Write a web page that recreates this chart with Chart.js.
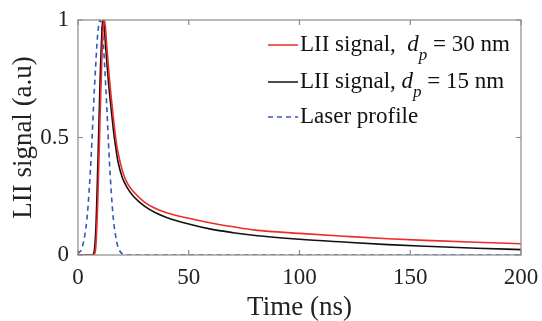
<!DOCTYPE html>
<html>
<head>
<meta charset="utf-8">
<script src="https://cdn.jsdelivr.net/npm/chart.js@4.4.0/dist/chart.umd.min.js"></script>
<style>
  html, body { margin: 0; padding: 0; background: #fff; }
  #wrap { width: 542px; height: 321px; position: relative; }
</style>
</head>
<body>
<div id="wrap"><canvas id="lii"></canvas></div>
<script>
// time axis (ns), shared by all series
const timeNs = [0, 2, 4, 5, 6, 7, 8, 9, 10, 11, 11.5, 12, 13, 14, 15, 16, 17, 18, 20, 22, 25, 30, 35, 40, 50, 60, 70, 80, 100, 120, 140, 160, 180, 200];
// LII signal, dp = 30 nm
const lii30 = [0, 0, 0, 0, 0, 0, 0.03, 0.25, 0.6, 0.9, 0.98, 1.0, 0.89, 0.77, 0.67, 0.58, 0.5, 0.44, 0.36, 0.31, 0.27, 0.225, 0.198, 0.18, 0.156, 0.136, 0.12, 0.106, 0.092, 0.08, 0.069, 0.061, 0.054, 0.048];
// LII signal, dp = 15 nm
const lii15 = [0, 0, 0, 0, 0, 0.005, 0.1, 0.4, 0.75, 0.98, 1.0, 0.95, 0.82, 0.71, 0.62, 0.53, 0.46, 0.4, 0.33, 0.29, 0.25, 0.208, 0.18, 0.16, 0.132, 0.11, 0.095, 0.083, 0.067, 0.055, 0.044, 0.036, 0.029, 0.023];
// laser profile
const laser = [0.005, 0.036, 0.15, 0.27, 0.43, 0.63, 0.81, 0.95, 1.0, 0.95, 0.89, 0.81, 0.63, 0.43, 0.27, 0.15, 0.08, 0.036, 0.005, 0, 0, 0, 0, 0, 0, 0, 0, 0, 0, 0, 0, 0, 0, 0];

const xTicks = [0, 50, 100, 150, 200];
const yTicks = [0, 0.5, 1];

const serif = "'Liberation Serif', 'Times New Roman', serif";
const boxColor = '#8a8a8a';
Chart.defaults.font.family = serif;

function pts(vals) {
  return timeNs.map((t, i) => ({ x: t, y: vals[i] }));
}

// legend entries: text before d, subscript, text after
const legendItems = [
  { color: '#ee2a2a', dash: [], pre: 'LII signal,  ', post: ' = 30 nm' },
  { color: '#111111', dash: [], pre: 'LII signal, ', post: ' = 15 nm' },
  { color: '#3556c0', dash: [5, 4], pre: 'Laser profile', post: null }
];

// box round the plot, inward ticks, legend
const framePlugin = {
  id: 'frame',
  afterDatasetsDraw(chart) {
    const { ctx, chartArea: a, scales } = chart;
    ctx.save();
    ctx.strokeStyle = boxColor;
    ctx.lineWidth = 1.2;
    ctx.setLineDash([]);
    ctx.strokeRect(a.left, a.top, a.right - a.left, a.bottom - a.top);
    ctx.beginPath();
    xTicks.forEach(v => {
      const px = scales.x.getPixelForValue(v);
      ctx.moveTo(px, a.bottom); ctx.lineTo(px, a.bottom - 5);
      ctx.moveTo(px, a.top); ctx.lineTo(px, a.top + 5);
    });
    yTicks.forEach(v => {
      const py = scales.y.getPixelForValue(v);
      ctx.moveTo(a.left, py); ctx.lineTo(a.left + 5, py);
      ctx.moveTo(a.right, py); ctx.lineTo(a.right - 5, py);
    });
    ctx.stroke();

    // legend
    const lx = 268, rows = [45, 82, 117];
    legendItems.forEach((it, i) => {
      const y = rows[i];
      ctx.strokeStyle = it.color;
      ctx.lineWidth = 1.5;
      ctx.setLineDash(it.dash);
      ctx.beginPath();
      ctx.moveTo(lx, y); ctx.lineTo(lx + 30, y);
      ctx.stroke();
      ctx.setLineDash([]);
      ctx.fillStyle = '#111';
      ctx.textBaseline = 'middle';
      ctx.textAlign = 'left';
      let x = lx + 32;
      ctx.font = '23px ' + serif;
      ctx.fillText(it.pre, x, y);
      x += ctx.measureText(it.pre).width;
      if (it.post !== null) {
        ctx.font = 'italic 23px ' + serif;
        ctx.fillText('d', x, y);
        const dw = ctx.measureText('d').width;
        ctx.font = 'italic 17px ' + serif;
        ctx.fillText('p', x + dw, y + 11);
        x += dw + ctx.measureText('p').width;
        ctx.font = '23px ' + serif;
        ctx.fillText(it.post, x, y);
      }
    });
    ctx.restore();
  }
};

new Chart(document.getElementById('lii'), {
  type: 'line',
  data: {
    datasets: [
      { label: 'LII signal, dp = 30 nm', data: pts(lii30), borderColor: '#ee2a2a', borderWidth: 1.6 },
      { label: 'LII signal, dp = 15 nm', data: pts(lii15), borderColor: '#111111', borderWidth: 1.6 },
      { label: 'Laser profile', data: pts(laser), borderColor: '#3556c0', borderWidth: 1.6, borderDash: [5, 4] }
    ]
  },
  options: {
    responsive: true,
    maintainAspectRatio: false,
    animation: false,
    layout: { padding: { top: 20, right: 21, left: 0, bottom: 0 } },
    elements: {
      point: { radius: 0 },
      line: { tension: 0.35, cubicInterpolationMode: 'monotone', fill: false }
    },
    plugins: {
      legend: { display: false },
      tooltip: { enabled: false }
    },
    scales: {
      x: {
        type: 'linear',
        min: 0, max: 200,
        afterBuildTicks: s => { s.ticks = xTicks.map(v => ({ value: v })); },
        afterFit: s => { s.height = 66; s.paddingLeft = 0; s.paddingRight = 0; },
        grid: { display: false, drawTicks: false },
        border: { display: false },
        ticks: { color: '#222', font: { family: serif, size: 23 }, padding: 9, maxRotation: 0 },
        title: { display: true, text: 'Time (ns)', color: '#222', font: { family: serif, size: 27 }, padding: { top: 0, bottom: -3 } }
      },
      y: {
        min: 0, max: 1,
        afterBuildTicks: s => { s.ticks = yTicks.map(v => ({ value: v })); },
        afterFit: s => { s.width = 78; s.paddingTop = 0; s.paddingBottom = 0; },
        grid: { display: false, drawTicks: false },
        border: { display: false },
        ticks: { color: '#222', font: { family: serif, size: 23 }, padding: 9, callback: v => String(v) },
        title: { display: true, text: 'LII signal (a.u)', color: '#222', font: { family: serif, size: 27 }, padding: { top: 8, bottom: 0 } }
      }
    }
  },
  plugins: [framePlugin]
});
</script>
</body>
</html>
